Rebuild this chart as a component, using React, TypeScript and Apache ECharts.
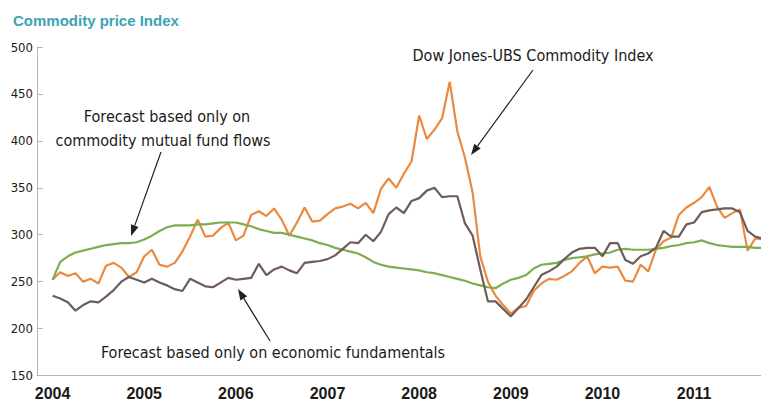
import React, { useEffect, useRef } from "react";
import * as echarts from "echarts";

// Monthly data, Jan 2004 onward
const START_YEAR = 2004;
const yearLabels = [2004, 2005, 2006, 2007, 2008, 2009, 2010, 2011];
const yTicks = [150, 200, 250, 300, 350, 400, 450, 500];

const djUbs = [
  252, 260, 256, 259, 250, 253, 248, 267, 270, 265, 255, 260,
  277, 284, 268, 266, 270, 282, 298, 316, 298, 299, 307, 313,
  294, 299, 321, 325, 320, 328, 316, 299, 313, 329, 314, 315,
  322, 328, 330, 333, 328, 334, 323, 349, 360, 350, 365, 378,
  427, 402, 412, 424, 463, 410, 382, 345, 277, 250, 235, 225,
  216, 222, 224, 240, 248, 253, 252, 256, 261, 270, 277, 259,
  266, 265, 266, 251, 250, 268, 261, 284, 293, 297, 321, 329,
  334, 340, 351, 330, 318, 323, 327, 283, 296, 295,
];

const fundamentals = [
  235, 232, 228, 219, 225, 229, 228, 234, 241, 250, 255, 252,
  249, 253, 249, 246, 242, 240, 253, 249, 245, 244, 249, 254,
  252, 253, 254, 269, 257, 263, 266, 262, 259, 270, 271, 272,
  274, 278, 285, 292, 291, 300, 293, 303, 322, 329, 323, 336,
  339, 347, 350, 340, 341, 341, 312, 299, 263, 229, 229, 221,
  213, 222, 231, 244, 257, 261, 266, 274, 281, 285, 286, 286,
  277, 291, 291, 273, 269, 277, 280, 286, 304, 298, 298, 311,
  313, 324, 326, 327, 328, 328, 324, 304, 298, 296,
];

const fundFlows = [
  252, 271, 277, 281, 283, 285, 287, 289, 290, 291, 291, 292,
  295, 299, 304, 308, 310, 310, 310, 311, 311, 312, 313, 313,
  313, 311, 309, 306, 304, 302, 302, 300, 298, 296, 294, 291,
  289, 286, 284, 282, 280, 276, 271, 268, 266, 265, 264, 263,
  262, 260, 259, 257, 255, 253, 251, 248, 246, 244, 243, 248,
  252, 254, 257, 264, 268, 269, 270, 273, 275, 276, 277, 279,
  280, 281, 284, 285, 284, 284, 284, 285, 286, 288, 289, 291,
  292, 294, 291, 289, 288, 287, 287, 287, 286, 286,
];

const FONT = "'DejaVu Sans Condensed', 'Liberation Sans', sans-serif";
const BOLD_FONT = "'Liberation Sans', 'Arial', sans-serif";

const toSeries = (vals: number[]) => vals.map((v, i) => [START_YEAR + i / 12, v]);

function arrow(x1: number, y1: number, x2: number, y2: number) {
  const dx = x2 - x1;
  const dy = y2 - y1;
  const len = Math.sqrt(dx * dx + dy * dy);
  const ux = dx / len;
  const uy = dy / len;
  const hl = 11;
  const hw = 4;
  const bx = x2 - ux * hl;
  const by = y2 - uy * hl;
  return [
    {
      type: "line",
      shape: { x1, y1, x2: bx, y2: by },
      style: { stroke: "#222", lineWidth: 1.2 },
    },
    {
      type: "polygon",
      shape: {
        points: [
          [x2, y2],
          [bx - uy * hw, by + ux * hw],
          [bx + uy * hw, by - ux * hw],
        ],
      },
      style: { fill: "#222" },
    },
  ];
}

function label(text: string, x: number, y: number, size = 16) {
  return {
    type: "text",
    x,
    y,
    style: {
      text,
      fill: "#1a1a1a",
      font: `${size}px ${FONT}`,
      textAlign: "center",
      textVerticalAlign: "middle",
    },
  };
}

export default function App() {
  const ref = useRef<HTMLDivElement>(null);
  useEffect(() => {
    if (!ref.current) return;
    const chart = echarts.init(ref.current, null, { renderer: "svg" });
    chart.setOption({
      animation: false,
      backgroundColor: "#ffffff",
      grid: { left: 37, right: 0, top: 47, bottom: 28.5, containLabel: false },
      xAxis: {
        type: "value",
        min: 2003.83,
        max: 2011.73,
        axisLine: { show: true, lineStyle: { color: "#b5b5b5", width: 1 } },
        axisTick: { show: false },
        splitLine: { show: false },
        axisLabel: {
          customValues: yearLabels,
          formatter: (v: number) => String(Math.round(v)),
          color: "#1a1a1a",
          fontFamily: BOLD_FONT,
          fontWeight: "bold",
          fontSize: 16,
          margin: 10,
          hideOverlap: false,
        },
      },
      yAxis: {
        type: "value",
        min: 150,
        max: 500,
        interval: 50,
        axisLine: { show: true, lineStyle: { color: "#b5b5b5", width: 1 } },
        axisTick: { show: true, inside: true, length: 6, lineStyle: { color: "#b5b5b5" } },
        splitLine: { show: false },
        axisLabel: {
          customValues: yTicks,
          color: "#1a1a1a",
          fontFamily: FONT,
          fontSize: 13,
          margin: 4,
        },
      },
      series: [
        {
          name: "Dow Jones-UBS Commodity Index",
          type: "line",
          data: toSeries(djUbs),
          showSymbol: false,
          symbol: "none",
          lineStyle: { color: "#ea8a40", width: 2.2 },
          clip: true,
        },
        {
          name: "Forecast based only on commodity mutual fund flows",
          type: "line",
          data: toSeries(fundFlows),
          showSymbol: false,
          symbol: "none",
          lineStyle: { color: "#7aae4e", width: 2.2 },
          clip: true,
        },
        {
          name: "Forecast based only on economic fundamentals",
          type: "line",
          data: toSeries(fundamentals),
          showSymbol: false,
          symbol: "none",
          lineStyle: { color: "#6e5c58", width: 2.2 },
          clip: true,
        },
      ],
      graphic: [
        {
          type: "text",
          x: 13,
          y: 20,
          style: {
            text: "Commodity price Index",
            fill: "#3ba3b3",
            font: `bold 15px ${BOLD_FONT}`,
            textVerticalAlign: "middle",
          },
        },
        label("Dow Jones-UBS Commodity Index", 533, 55),
        label("Forecast based only on", 167, 116),
        label("commodity mutual fund flows", 163, 140),
        label("Forecast based only on economic fundamentals", 273, 352),
        ...arrow(533, 70, 471, 155),
        ...arrow(161, 152, 131, 236),
        ...arrow(270, 341, 238, 289),
      ],
    });
    return () => chart.dispose();
  }, []);
  return (
    <div
      ref={ref}
      style={{ position: "fixed", left: 0, top: 0, width: 761, height: 404 }}
    />
  );
}
